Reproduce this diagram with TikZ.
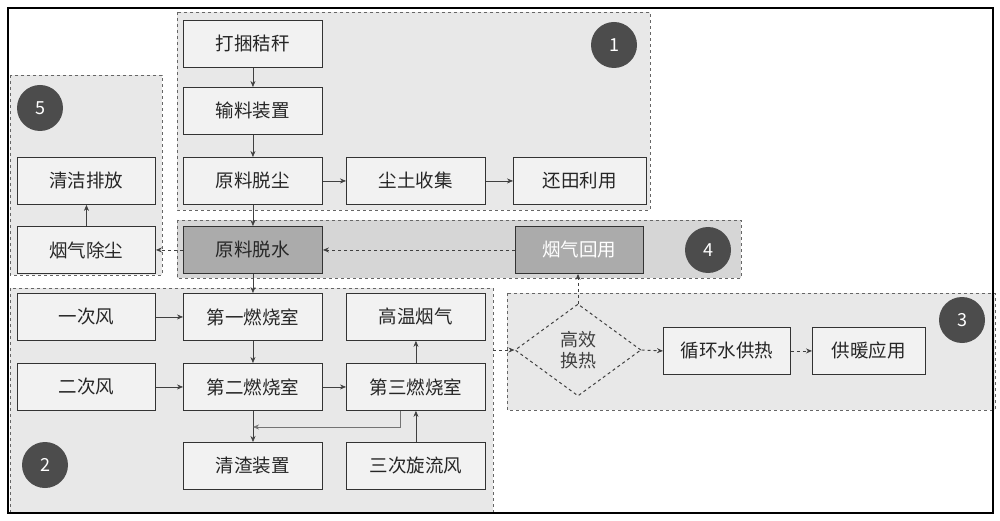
\documentclass[tikz,border=0pt]{standalone}
\usepackage{fontspec}
\setmainfont{Noto Sans CJK SC}
\usetikzlibrary{shapes.geometric,arrows.meta}
\begin{document}
\begin{tikzpicture}[x=1pt,y=-1pt,
 reg/.style={draw=black!60,dashed,fill=black!9,line width=0.8pt},
 box/.style={draw=black!80,line width=0.9pt,fill=black!5,minimum width=139pt,minimum height=47pt,anchor=north west,inner sep=0pt,font=\fontsize{18.5}{18.5}\selectfont,text=black!85},
 dark/.style={fill=black!33},
 num/.style={circle,fill=black!70,minimum size=46pt,inner sep=0pt,text=white,font=\fontsize{18}{18}\selectfont},
 ar/.style={-{Stealth[length=6pt,width=5pt]},line width=0.6pt,draw=black!75},
 da/.style={ar,dashed,line width=0.9pt}]
\useasboundingbox (0,0) rectangle (1000,521);
\fill[white] (0,0) rectangle (1000,521);
% regions
\draw[reg] (177,12) rectangle (650,210);
\draw[reg] (10,75) rectangle (162,275);
\draw[reg,fill=black!16] (177,220) rectangle (741,278);
\draw[reg] (10,288) rectangle (493,513);
\draw[reg] (507,293) rectangle (995,410);
\draw[line width=1.6pt] (8,8) rectangle (993,513);
% circles
\node[num] (c1) at (614,45) {1};
\node[num] (c5) at (40,108) {5};
\node[num] (c4) at (708,250) {4};
\node[num] (c3) at (962,320) {3};
\node[num] (c2) at (45,465) {2};
% boxes
\node[box] (a1) at (183,20) {打捆秸秆};
\node[box] (a2) at (183,87) {输料装置};
\node[box] (a3) at (183,157) {原料脱尘};
\node[box] (a4) at (346,157) {尘土收集};
\node[box,minimum width=133pt] (a5) at (513,157) {还田利用};
\node[box,minimum width=138pt] (e1) at (17,157) {清洁排放};
\node[box,minimum width=138pt] (e2) at (17,226) {烟气除尘};
\node[box,dark] (d1) at (183,226) {原料脱水};
\node[box,dark,minimum width=128pt,text=white] (d2) at (515,226) {烟气回用};
\node[box,minimum width=138pt] (b1) at (17,293) {一次风};
\node[box] (b2) at (183,293) {第一燃烧室};
\node[box] (b3) at (346,293) {高温烟气};
\node[box,minimum width=138pt] (b4) at (17,363) {二次风};
\node[box] (b5) at (183,363) {第二燃烧室};
\node[box] (b6) at (346,363) {第三燃烧室};
\node[box] (b7) at (183,442) {清渣装置};
\node[box] (b8) at (346,442) {三次旋流风};
\node[diamond,draw=black!75,dashed,line width=1pt,minimum width=126pt,minimum height=92pt,inner sep=0pt,align=center,font=\fontsize{18}{21}\selectfont,text=black!75] (h) at (578,350) {高效\\换热};
\node[box,minimum width=127pt] (g1) at (663,327) {循环水供热};
\node[box,minimum width=113pt] (g2) at (812,327) {供暖应用};
\coordinate (r2) at (493,350);
\coordinate (f1) at (400,427);
\coordinate (f2) at (253,427);
% arrows
\draw[ar] (a1) -- (a2);
\draw[ar] (a2) -- (a3);
\draw[ar] (a3) -- (a4);
\draw[ar] (a4) -- (a5);
\draw[ar] (a3) -- (d1);
\draw[ar] (e2) -- (e1);
\draw[da] (d1) -- (e2);
\draw[da] (d2) -- (d1);
\draw[da] (h.north) -- (d2.south -| h.north);
\draw[ar] (d1) -- (b2);
\draw[ar] (b1) -- (b2);
\draw[ar] (b2) -- (b5);
\draw[ar] (b4) -- (b5);
\draw[ar] (b5) -- (b6);
\draw[ar] (b6) -- (b3);
\draw[ar] (b8) -- (b6);
\draw[ar] (b5.south -| f2) -- (b7.north -| f2);
\draw[ar,draw=black!55] (b6.south -| f1) -- (f1) -- (f2);
\draw[da] (r2) -- (h.west);
\draw[da] (h.east) -- (g1.west);
\draw[da] (g1) -- (g2);
\end{tikzpicture}
\end{document}
